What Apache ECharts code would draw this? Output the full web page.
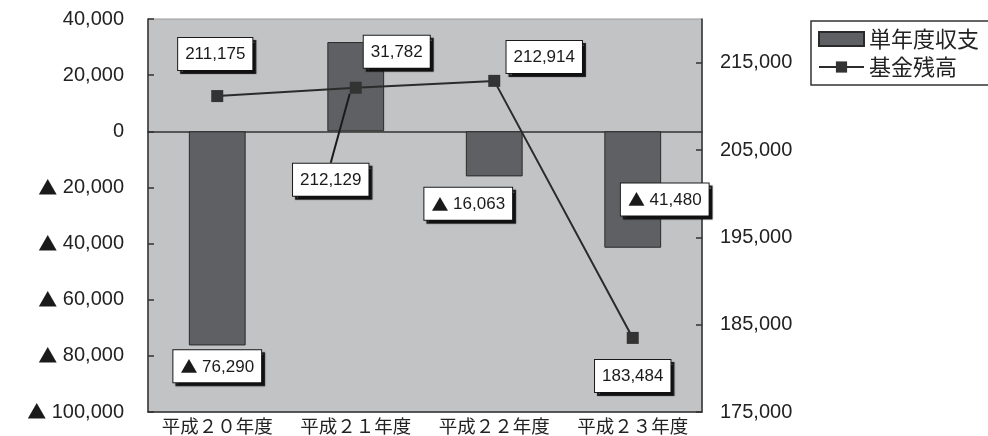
<!DOCTYPE html>
<html>
<head>
<meta charset="utf-8">
<script src="https://cdn.jsdelivr.net/npm/echarts@6/dist/echarts.min.js"></script>
<style>
  html, body { margin: 0; padding: 0; background: #fff; }
  #main { width: 988px; height: 436px; }
</style>
</head>
<body>
<div id="main"></div>
<script>
// data
var years = ['平成２０年度', '平成２１年度', '平成２２年度', '平成２３年度'];
var balance = [-76290, 31782, -16063, -41480];   // 単年度収支
var fund = [211175, 212129, 212914, 183484];      // 基金残高
var leftAxis = [-100000, 40000, 20000];
var rightAxis = [175000, 220000, 10000];

// label placement (px from centre of mark)
var barLabelOffset = [[0, 128], [41, -35], [-26, 50], [32, 10]];
var lineLabelOffset = [[-2, -42], [-25, 92], [50, -24], [0, 38]];

var num = function (v) { return Math.abs(v).toLocaleString('en-US'); };
// rich text version, so the triangle comes from the CJK font like in the print
var fmtRich = function (v) {
    return v < 0 ? '{t|▲} ' + num(v) : num(v);
};

var latin = 'Liberation Sans, Arial, sans-serif';
var tri = {fontFamily: 'Noto Sans CJK JP', fontSize: 19, color: '#1a1a1a'};

var boxLabel = {
    show: true,
    position: 'inside',
    color: '#1a1a1a',
    fontSize: 17,
    fontFamily: latin,
    backgroundColor: '#fff',
    borderColor: '#1a1a1a',
    borderWidth: 1,
    padding: [8, 7, 7, 7],
    shadowColor: '#111',
    shadowOffsetX: 3,
    shadowOffsetY: 3,
    shadowBlur: 1,
    rich: {t: {fontFamily: 'Noto Sans CJK JP', fontSize: 17, color: '#1a1a1a'}}
};

var barData = balance.map(function (v, i) {
    return {value: v, label: {offset: barLabelOffset[i]}};
});
var lineData = fund.map(function (v, i) {
    return {
        value: v,
        labelLine: {show: i === 1, lineStyle: {color: '#1a1a1a', width: 2}}
    };
});

var axisFont = {color: '#222', fontSize: 20, fontFamily: latin, rich: {t: tri}};

var option = {
    animation: false,
    legend: {
        orient: 'vertical',
        left: 811,
        top: 21,
        padding: [7, 10, 7, 7],
        itemGap: 6,
        itemWidth: 45,
        itemHeight: 14,
        borderColor: '#333',
        borderWidth: 1.5,
        textStyle: {color: '#222', fontSize: 22, fontFamily: 'Noto Sans CJK JP'},
        data: [{name: '単年度収支', icon: 'rect'}, {name: '基金残高'}]
    },
    grid: {
        left: 148,
        top: 19,
        right: 286,
        bottom: 24,
        show: true,
        backgroundColor: '#c2c3c5',
        borderColor: '#9a9a9a',
        borderWidth: 1
    },
    xAxis: [
        {
            type: 'category',
            data: years,
            position: 'bottom',
            axisLine: {onZero: true, lineStyle: {color: '#333', width: 1.5}},
            axisTick: {inside: true, length: 6, lineStyle: {color: '#333', width: 1.5}},
            axisLabel: {show: false},
            splitLine: {show: false}
        },
        {
            type: 'category',
            data: years,
            position: 'bottom',
            axisLine: {onZero: false, lineStyle: {color: '#333', width: 1.5}},
            axisTick: {show: false},
            axisLabel: {interval: 0, margin: 5, color: '#222', fontSize: 18.5, fontFamily: 'Noto Sans CJK JP'}
        }
    ],
    yAxis: [
        {
            type: 'value',
            position: 'left',
            min: leftAxis[0],
            max: leftAxis[1],
            interval: leftAxis[2],
            splitLine: {show: false},
            axisLine: {show: true, onZero: false, lineStyle: {color: '#333', width: 1.5}},
            axisTick: {show: true, inside: true, length: 6, lineStyle: {color: '#333', width: 1.5}},
            axisLabel: Object.assign({margin: 24, formatter: fmtRich}, axisFont)
        },
        {
            type: 'value',
            position: 'right',
            min: rightAxis[0],
            max: rightAxis[1],
            interval: rightAxis[2],
            splitLine: {show: false},
            axisLine: {show: true, onZero: false, lineStyle: {color: '#333', width: 1.5}},
            axisTick: {show: true, inside: true, length: 6, lineStyle: {color: '#333', width: 1.5}},
            axisLabel: Object.assign({margin: 18, showMaxLabel: false, formatter: fmtRich}, axisFont)
        }
    ],
    series: [
        {
            name: '単年度収支',
            type: 'bar',
            xAxisIndex: 0,
            yAxisIndex: 0,
            barWidth: '41%',
            itemStyle: {color: '#5f6064', borderColor: '#2a2a2a', borderWidth: 1},
            label: Object.assign({formatter: function (p) { return fmtRich(p.value); }}, boxLabel),
            data: barData
        },
        {
            name: '基金残高',
            type: 'line',
            xAxisIndex: 0,
            yAxisIndex: 1,
            symbol: 'rect',
            symbolSize: 12,
            itemStyle: {color: '#333'},
            lineStyle: {color: '#2b2b2b', width: 2},
            label: Object.assign({formatter: function (p) { return fmtRich(p.value); }}, boxLabel),
            // move each box off its marker; the second one gets a guide line
            labelLayout: function (p) {
                var o = lineLabelOffset[p.dataIndex];
                var r = p.labelRect, s = p.rect;
                var res = {dx: o[0], dy: o[1]};
                if (p.dataIndex === 1) {
                    res.labelLinePoints = [
                        [r.x + o[0] + 8, r.y + o[1] - 5],
                        [s.x + s.width / 2, s.y + s.height / 2]
                    ];
                }
                return res;
            },
            z: 5,
            data: lineData
        }
    ]
};

var chart = echarts.init(document.getElementById('main'));
chart.setOption(option);
</script>
</body>
</html>
